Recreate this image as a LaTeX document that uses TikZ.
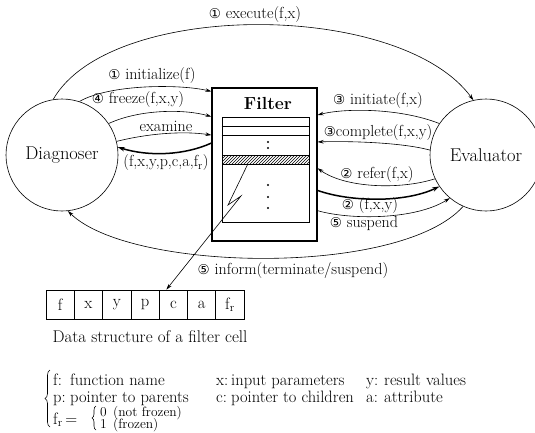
\documentclass[tikz,border=0pt]{standalone}
\usepackage{fontspec}
\newfontfamily\circfont{DejaVu Sans}
\usetikzlibrary{arrows.meta,calc,patterns,decorations.pathreplacing}
\newcommand\cnum[1]{{\circfont\fontsize{13.5}{13.5}\selectfont #1}}
\begin{document}
\begin{tikzpicture}[x=1pt,y=-1pt,
  lbl/.style={font=\fontsize{16}{18}\selectfont, inner sep=0pt},
  actor/.style={draw, circle, minimum size=112pt, inner sep=0pt, line width=0.6pt,
                font=\fontsize{18.5}{20}\selectfont},
  flow/.style={-{Stealth[length=6pt,width=3.6pt]}, line width=0.6pt},
  heavy/.style={-{Stealth[length=7pt,width=4.5pt]}, line width=1.5pt},
  cell/.style={draw, line width=0.7pt, minimum width=28.3pt, minimum height=29pt,
               inner sep=0pt, font=\fontsize{16.5}{18}\selectfont},
  legend/.style={anchor=base west, inner sep=0pt, font=\fontsize{16.5}{17}\selectfont},
  small/.style={anchor=base west, inner sep=0pt, font=\fontsize{13.5}{13.5}\selectfont},
  curly/.style={decorate, decoration={brace, amplitude=#1}, line width=0.6pt},
]
\useasboundingbox (0,0) rectangle (535,432);

% the two agents
\node[actor] (diag) at (62,155) {Diagnoser};
\node[actor] (eval) at (486,155) {Evaluator};

% the filter with its cells
\node[draw, line width=1.2pt, minimum width=105pt, minimum height=153pt, inner sep=0pt]
  (filter) at (264.5,164.5) {};
\node[font=\bfseries\fontsize{17.5}{19}\selectfont, inner sep=0pt] (ftitle) at (268,103) {Filter};
\node[draw, line width=0.7pt, minimum width=87pt, minimum height=105pt, inner sep=0pt]
  (inner) at (265.5,169.5) {};
\draw[line width=1.3pt] ($(inner.north west)+(0,10)$) -- ($(inner.north east)+(0,10)$);
\draw[line width=0.7pt] ($(inner.north west)+(0,19)$) -- ($(inner.north east)+(0,19)$);
\node[draw, line width=0.7pt, pattern=north east lines, minimum width=87pt, minimum height=9pt,
      inner sep=0pt] (hatch) at (265.5,159.5) {};
\foreach \y in {142,148,185,197,208}
  \fill (268,\y) circle (1.2pt);

% messages on the left
\draw[flow] (diag.99) .. controls (110,0) and (400,0) .. (eval.103);
\draw[flow] (diag.72) .. controls (110,84) and (180,84) .. (filter.126);
\draw[flow] (diag.34) .. controls (140,109) and (185,109) .. (filter.138);
\draw[flow] (diag.14) .. controls (150,133) and (185,131) .. (filter.151);
\draw[heavy] (filter.158) .. controls (185,155) and (150,157) .. (diag.8);

% messages on the right
\draw[flow] (eval.146) .. controls (400,108) and (345,108) .. (filter.43);
\draw[flow] (eval.175) .. controls (400,142) and (345,141) .. (filter.23);
\draw[flow] (eval.205) .. controls (400,190) and (345,188) .. (filter.-4);
\draw[heavy] (filter.-26) .. controls (350,202) and (405,203) .. (eval.214);
\draw[flow] (filter.-41) .. controls (350,220) and (415,220) .. (eval.230);
\draw[flow] (eval.246) .. controls (400,277) and (130,272) .. (diag.276);

\node[lbl] (lexec) at (255,15) {\cnum{①}\ execute(f,x)};
\node[lbl] (linit) at (152,76) {\cnum{①}\ initialize(f)};
\node[lbl] (lfreeze) at (138,100) {\cnum{④}\ freeze(f,x,y)};
\node[lbl] (lexam) at (166,126) {examine};
\node[lbl] (lret) at (166,163) {(f,x,y,p,c,a,f\textsubscript{r})};
\node[lbl] (linitiate) at (378,101) {\cnum{③}\ initiate(f,x)};
\node[lbl] (lcomplete) at (378,133) {\cnum{③}complete(f,x,y)};
\node[lbl] (lrefer) at (377,175) {\cnum{②}\ refer(f,x)};
\node[lbl] (lfxy) at (370,206) {\cnum{②}\ (f,x,y)};
\node[lbl] (lsusp) at (364,224) {\cnum{⑤}\ suspend};
\node[lbl] (linform) at (293,270) {\cnum{⑤}\ inform(terminate/suspend)};

% one filter cell
\foreach \t [count=\i] in {f,x,y,p,c,a,f\textsubscript{r}}
  \node[cell] (c\i) at ({46+28.3*(\i-0.5)},304.5) {\t};
\node[lbl, font=\fontsize{17}{19}\selectfont] (caption) at (150,337) {Data structure of a filter cell};
\draw[flow] ($(hatch.south west)+(26,0)$) -- (228,205) -- (241,196) -- ($(c5.north)+(-7,0)$);

% key to the fields
\draw[curly=5pt] (50,427) -- (50,370);
\node[legend] (kf) at (53,385) {f:};
\node[legend] (kfn) at (70,385) {function name};
\node[legend] (kx) at (216,385) {x:};
\node[legend] (kxn) at (231,385) {input parameters};
\node[legend] (ky) at (366,385) {y:};
\node[legend] (kyn) at (384,385) {result values};
\node[legend] (kp) at (53,402) {p:};
\node[legend] (kpn) at (70,402) {pointer to parents};
\node[legend] (kc) at (216,402) {c:};
\node[legend] (kcn) at (231,402) {pointer to children};
\node[legend] (ka) at (366,402) {a:};
\node[legend] (kan) at (384,402) {attribute};
\node[legend] (kfr) at (53,424) {f\textsubscript{r}\,=};
\draw[curly=4pt] (96,430) -- (96,406);
\node[small] (k0) at (100,416) {0};
\node[small] (k0n) at (113,416) {(not frozen)};
\node[small] (k1) at (100,428) {1};
\node[small] (k1n) at (113,428) {(frozen)};
\end{tikzpicture}
\end{document}
